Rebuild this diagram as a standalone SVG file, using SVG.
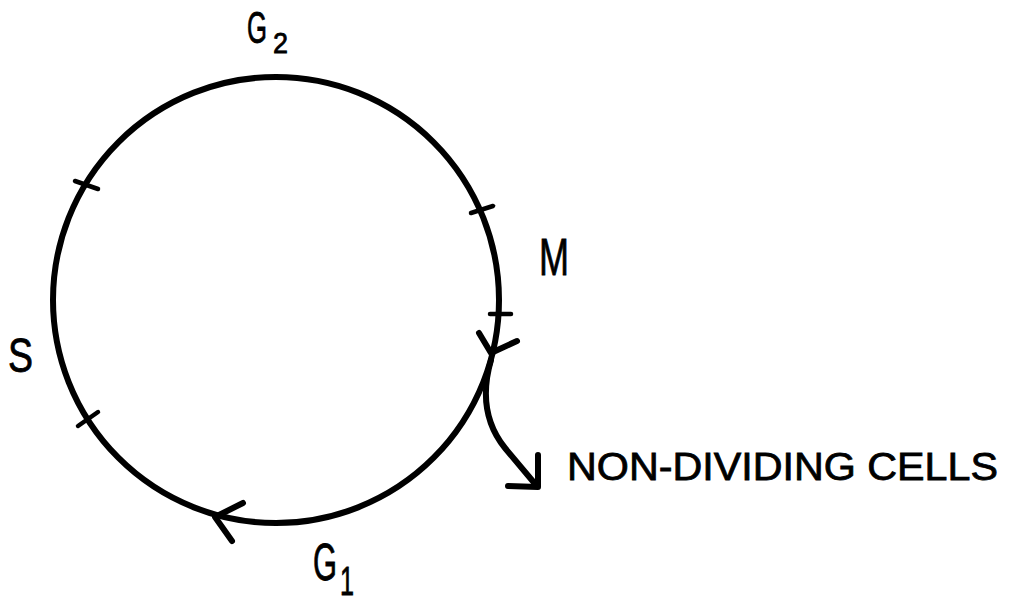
<svg xmlns="http://www.w3.org/2000/svg" width="1013" height="607" viewBox="0 0 1013 607">
<style>
.ln{fill:none;stroke:#000;stroke-width:6;stroke-linecap:round;stroke-linejoin:round}
.tk{fill:none;stroke:#000;stroke-width:4.5;stroke-linecap:round}
.lb{font-family:"Liberation Sans",Arial,sans-serif;fill:#000;stroke:#000;stroke-width:0.8}
</style>
<rect width="1013" height="607" fill="#fff"/>
<g id="cycle">
<circle class="ln" cx="276" cy="300" r="223"/>
</g>
<g id="ticks">
<line class="tk" x1="75" y1="181" x2="98" y2="189"/>
<line class="tk" x1="78" y1="426" x2="98" y2="412"/>
<line class="tk" x1="471" y1="213" x2="493" y2="206"/>
<line class="tk" x1="490" y1="314" x2="511" y2="314"/>
</g>
<g id="connectors">
<polyline class="ln" points="479,333 491,353 517,341"/>
<polyline class="ln" points="243,503 215,517 232,541"/>
<path class="ln" d="M 491 360 Q 476 412 505 448 L 536 485"/>
<polyline class="ln" points="538,455 538,487 508,486"/>
</g>
<g id="label-G2">
<text class="lb" font-size="44"><tspan x="247" y="43" textLength="20" lengthAdjust="spacingAndGlyphs">G</tspan><tspan x="273" y="53" font-size="30" textLength="15" lengthAdjust="spacingAndGlyphs">2</tspan></text>
</g>
<g id="label-M">
<text class="lb" x="539" y="275" font-size="51" textLength="30" lengthAdjust="spacingAndGlyphs">M</text>
</g>
<g id="label-S">
<text class="lb" x="8" y="372" font-size="48" textLength="25" lengthAdjust="spacingAndGlyphs">S</text>
</g>
<g id="label-G1">
<text class="lb" font-size="51"><tspan x="313" y="580" textLength="24" lengthAdjust="spacingAndGlyphs">G</tspan><tspan x="340" y="595" font-size="40" textLength="14" lengthAdjust="spacingAndGlyphs">1</tspan></text>
</g>
<g id="label-nondividing">
<text class="lb" x="567" y="480" font-size="39" textLength="431" lengthAdjust="spacingAndGlyphs">NON-DIVIDING CELLS</text>
</g>
</svg>
